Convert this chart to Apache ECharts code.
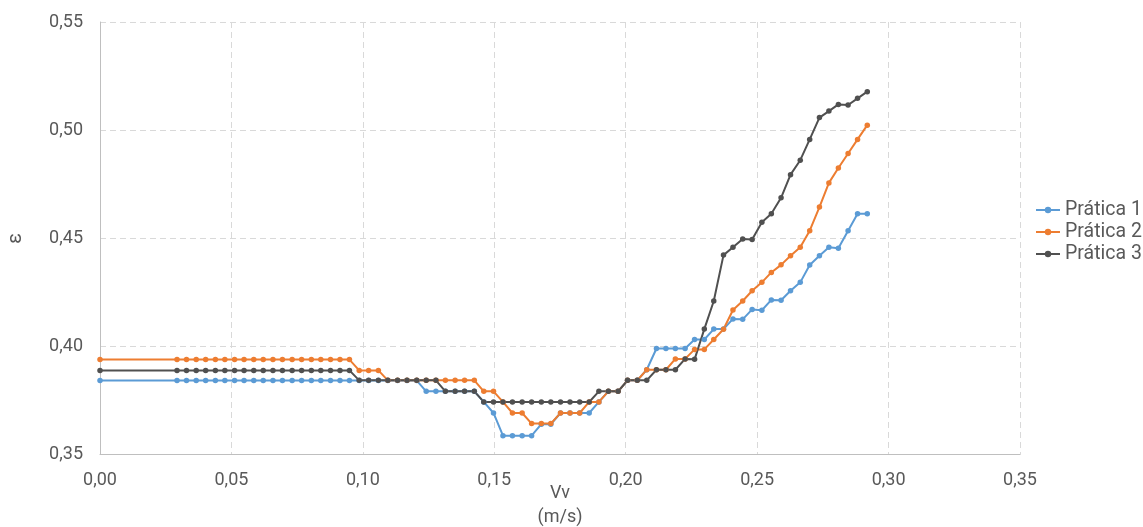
<!DOCTYPE html>
<html>
<head>
<meta charset="utf-8">
<script src="https://cdn.jsdelivr.net/npm/echarts@6/dist/echarts.min.js"></script>
<style>
html,body{margin:0;padding:0;background:#fff;}
#chart{width:1143px;height:527px;}
</style>
</head>
<body>
<div id="chart"></div>
<script>
// Vv (m/s) for each measured point
const vv = [0,
  0.0293,0.0329,0.0366,0.0402,0.0439,0.0475,0.0512,0.0548,0.0585,0.0621,
  0.0658,0.0694,0.0731,0.0767,0.0804,0.0840,0.0877,0.0913,0.0949,0.0986,
  0.1022,0.1059,0.1095,0.1132,0.1168,0.1205,0.1241,0.1278,0.1314,0.1351,
  0.1387,0.1424,0.1460,0.1497,0.1533,0.1569,0.1606,0.1642,0.1679,0.1715,
  0.1752,0.1788,0.1825,0.1861,0.1898,0.1934,0.1971,0.2007,0.2044,0.2080,
  0.2117,0.2153,0.2189,0.2226,0.2262,0.2299,0.2335,0.2372,0.2408,0.2445,
  0.2481,0.2518,0.2554,0.2591,0.2627,0.2664,0.2700,0.2737,0.2773,0.2809,
  0.2846,0.2882,0.2919];

const pratica1 = [0.3842,
  0.3842,0.3842,0.3842,0.3842,0.3842,0.3842,0.3842,0.3842,0.3842,0.3842,
  0.3842,0.3842,0.3842,0.3842,0.3842,0.3842,0.3842,0.3842,0.3842,0.3842,
  0.3842,0.3842,0.3842,0.3842,0.3842,0.3842,0.3792,0.3792,0.3792,0.3792,
  0.3792,0.3792,0.3743,0.3692,0.3587,0.3587,0.3587,0.3587,0.3640,0.3640,
  0.3692,0.3692,0.3692,0.3692,0.3743,0.3792,0.3792,0.3843,0.3843,0.3892,
  0.3990,0.3990,0.3990,0.3990,0.4032,0.4032,0.4080,0.4080,0.4127,0.4125,
  0.4171,0.4167,0.4215,0.4213,0.4257,0.4296,0.4376,0.4419,0.4458,0.4454,
  0.4535,0.4613,0.4613];

const pratica2 = [0.3939,
  0.3939,0.3939,0.3939,0.3939,0.3939,0.3939,0.3939,0.3939,0.3939,0.3939,
  0.3939,0.3939,0.3939,0.3939,0.3939,0.3939,0.3939,0.3939,0.3939,0.3889,
  0.3889,0.3889,0.3843,0.3843,0.3843,0.3843,0.3843,0.3843,0.3843,0.3843,
  0.3843,0.3843,0.3792,0.3792,0.3743,0.3692,0.3692,0.3643,0.3643,0.3643,
  0.3692,0.3692,0.3692,0.3743,0.3743,0.3792,0.3792,0.3843,0.3843,0.3892,
  0.3892,0.3892,0.3942,0.3942,0.3986,0.3986,0.4032,0.4079,0.4168,0.4210,
  0.4257,0.4296,0.4342,0.4377,0.4419,0.4458,0.4535,0.4644,0.4756,0.4825,
  0.4892,0.4957,0.5023];

const pratica3 = [0.3889,
  0.3889,0.3889,0.3889,0.3889,0.3889,0.3889,0.3889,0.3889,0.3889,0.3889,
  0.3889,0.3889,0.3889,0.3889,0.3889,0.3889,0.3889,0.3889,0.3889,0.3843,
  0.3843,0.3843,0.3843,0.3843,0.3843,0.3843,0.3843,0.3843,0.3792,0.3792,
  0.3792,0.3792,0.3743,0.3743,0.3743,0.3743,0.3743,0.3743,0.3743,0.3743,
  0.3743,0.3743,0.3743,0.3743,0.3792,0.3792,0.3792,0.3843,0.3843,0.3843,
  0.3892,0.3892,0.3892,0.3942,0.3940,0.4080,0.4210,0.4422,0.4458,0.4497,
  0.4494,0.4574,0.4613,0.4687,0.4794,0.4861,0.4957,0.5058,0.5088,0.5119,
  0.5116,0.5147,0.5178];

const seriesNames = ['Prática 1', 'Prática 2', 'Prática 3'];
const seriesColors = ['#5B9BD5', '#ED7D31', '#505050'];
const seriesValues = [pratica1, pratica2, pratica3];

const fmt = v => v.toFixed(2).replace('.', ',');
const txt = '#595959';
const font = 'Roboto, "Liberation Sans", Arial, sans-serif';

const chart = echarts.init(document.getElementById('chart'), null, {renderer: 'canvas'});
chart.setOption({
  animation: false,
  backgroundColor: '#ffffff',
  textStyle: {fontFamily: font},
  grid: {left: 100, right: 123, top: 22, bottom: 72.5, containLabel: false, outerBoundsMode: 'none'},
  legend: {
    orient: 'vertical',
    left: 1030,
    top: 195,
    itemWidth: 24,
    itemHeight: 8,
    itemGap: 2,
    textStyle: {color: txt, fontSize: 19.5, fontFamily: font},
    data: seriesNames
  },
  xAxis: {
    type: 'value',
    min: 0, max: 0.35, interval: 0.05,
    name: 'Vv\n(m/s)',
    nameLocation: 'middle',
    nameGap: 27,
    nameMoveOverlap: false,
    nameTextStyle: {color: txt, fontSize: 18, lineHeight: 24, fontFamily: font},
    axisLine: {show: true, lineStyle: {color: '#bfbfbf', width: 1}},
    axisTick: {show: false},
    axisLabel: {color: txt, fontSize: 18, margin: 17, formatter: fmt},
    splitLine: {show: true, lineStyle: {color: '#d9d9d9', type: [6, 4], width: 1}}
  },
  yAxis: {
    type: 'value',
    min: 0.35, max: 0.55, interval: 0.05,
    name: 'ε',
    nameLocation: 'middle',
    nameGap: 74,
    nameRotate: 90,
    nameMoveOverlap: false,
    nameTextStyle: {color: txt, fontSize: 20, fontFamily: font},
    axisLine: {show: true, lineStyle: {color: '#bfbfbf', width: 1}},
    axisTick: {show: false},
    axisLabel: {color: txt, fontSize: 18, margin: 17, formatter: fmt},
    splitLine: {show: true, lineStyle: {color: '#d9d9d9', type: [6, 4], width: 1}}
  },
  series: seriesNames.map((n, k) => ({
    name: n,
    type: 'line',
    data: vv.map((x, i) => [x, seriesValues[k][i]]),
    symbol: 'circle',
    symbolSize: 5.5,
    showSymbol: true,
    color: seriesColors[k],
    lineStyle: {width: 2, color: seriesColors[k]},
    itemStyle: {color: seriesColors[k]},
    emphasis: {disabled: true}
  }))
});
</script>
</body>
</html>
